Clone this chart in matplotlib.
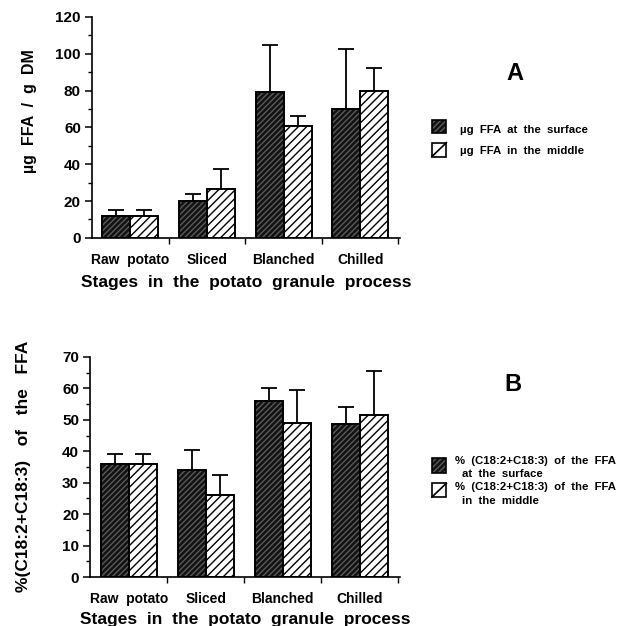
import matplotlib
matplotlib.use("Agg")
import matplotlib.pyplot as plt
import numpy as np
from matplotlib.ticker import MultipleLocator, FixedLocator

plt.rcParams["font.family"] = ["Liberation Sans", "DejaVu Sans"]
plt.rcParams["font.weight"] = "bold"
plt.rcParams["hatch.linewidth"] = 1.0

stages = ["Raw  potato", "Sliced", "Blanched", "Chilled"]

# panel A: ug FFA / g DM
ffa_surface = [12, 20, 79, 70]
ffa_surface_err = [3, 4, 25.5, 32.5]
ffa_middle = [12, 26.5, 61, 80]
ffa_middle_err = [3, 11, 5, 12]

# panel B: % (C18:2 + C18:3) of the FFA
lin_surface = [36, 34, 56, 48.5]
lin_surface_err = [3, 6.5, 4, 5.5]
lin_middle = [36, 26, 49, 51.5]
lin_middle_err = [3, 6.5, 10.5, 14]

DARK = "#121212"
DARK_HATCH = "#5a5a5a"

fig = plt.figure(figsize=(6.26, 6.26), dpi=100)
ax_a = fig.add_axes([0.147, 0.620, 0.492, 0.353])
ax_b = fig.add_axes([0.144, 0.078, 0.495, 0.352])

x = np.arange(len(stages))
w = 0.365


def draw_panel(ax, surf, surf_err, mid, mid_err, ymax, major, minor, ylabel, xpad):
    xs = x - w / 2
    xm = x + w / 2
    # dark bars: near-black fill with grey hatch, then black outline on top
    ax.bar(xs, surf, w, color=DARK, edgecolor=DARK_HATCH, hatch="//////", linewidth=0, zorder=2)
    ax.bar(xs, surf, w, fill=False, edgecolor="black", linewidth=1.4, zorder=3)
    ax.bar(xm, mid, w, color="white", edgecolor="black", hatch="////", linewidth=0, zorder=2)
    ax.bar(xm, mid, w, fill=False, edgecolor="black", linewidth=1.4, zorder=3)
    ax.errorbar(xs, surf, yerr=[np.zeros(len(surf)), surf_err], fmt="none",
                ecolor="black", elinewidth=1.3, capsize=5.5, capthick=1.3, zorder=1)
    ax.errorbar(xm, mid, yerr=[np.zeros(len(mid)), mid_err], fmt="none",
                ecolor="black", elinewidth=1.3, capsize=5.5, capthick=1.3, zorder=1)

    ax.set_xlim(-0.5, 3.52)
    ax.set_ylim(0, ymax)
    for s in ["top", "right"]:
        ax.spines[s].set_visible(False)
    ax.spines["left"].set_linewidth(1.2)
    ax.spines["bottom"].set_linewidth(1.2)

    ax.yaxis.set_major_locator(MultipleLocator(major))
    ax.yaxis.set_minor_locator(MultipleLocator(minor))
    ax.tick_params(axis="y", which="major", length=5, width=1.1, labelsize=11, pad=3)
    ax.tick_params(axis="y", which="minor", length=3, width=1.0)

    ax.xaxis.set_major_locator(FixedLocator([0.5, 1.5, 2.5, 3.5]))
    ax.xaxis.set_major_formatter(plt.NullFormatter())
    ax.set_xticks(x, stages, minor=True)
    ax.tick_params(axis="x", which="major", length=4, width=1.0)
    ax.tick_params(axis="x", which="minor", length=0, labelsize=10, pad=11)
    for lbl in ax.get_xticklabels(minor=True) + ax.get_yticklabels():
        lbl.set_fontweight("bold")

    ax.set_xlabel("Stages  in  the  potato  granule  process", fontsize=12.5,
                  fontweight="bold", labelpad=xpad)
    ax.set_ylabel(ylabel, fontsize=11.5, fontweight="bold")


draw_panel(ax_a, ffa_surface, ffa_surface_err, ffa_middle, ffa_middle_err,
           120, 20, 10, "\u00b5g  FFA  /  g  DM", 6)
ax_a.yaxis.set_label_coords(-0.18, 0.575)
draw_panel(ax_b, lin_surface, lin_surface_err, lin_middle, lin_middle_err,
           70, 10, 5, "%(C18:2+C18:3)   of   the   FFA", 4)
ax_b.yaxis.label.set_fontsize(12.5)
ax_b.yaxis.set_label_coords(-0.19, 0.505)

# panel letters
fig.text(0.822, 0.883, "A", fontsize=17, fontweight="bold", ha="center", va="center")
fig.text(0.820, 0.385, "B", fontsize=17, fontweight="bold", ha="center", va="center")


def legend_patch(xp, yp, hp, dark):
    wp = 0.023
    if dark:
        fig.add_artist(plt.Rectangle((xp, yp), wp, hp, transform=fig.transFigure, facecolor=DARK,
                                     edgecolor=DARK_HATCH, hatch="//////", linewidth=0))
    else:
        fig.add_artist(plt.Line2D([xp, xp + wp], [yp, yp + hp], transform=fig.transFigure,
                                  color="black", linewidth=1.2))
    fig.add_artist(plt.Rectangle((xp, yp), wp, hp, transform=fig.transFigure, fill=False,
                                 edgecolor="black", linewidth=1.2))


legend_patch(0.690, 0.788, 0.021, True)
legend_patch(0.690, 0.750, 0.022, False)
fig.text(0.735, 0.793, "\u00b5g  FFA  at  the  surface", fontsize=8.2, fontweight="bold", va="center")
fig.text(0.735, 0.759, "\u00b5g  FFA  in  the  middle", fontsize=8.2, fontweight="bold", va="center")

legend_patch(0.690, 0.2444, 0.024, True)
legend_patch(0.690, 0.206, 0.022, False)
fig.text(0.727, 0.2636, "%  (C18:2+C18:3)  of  the  FFA", fontsize=8.2, fontweight="bold", va="center")
fig.text(0.738, 0.2428, "at  the  surface", fontsize=8.2, fontweight="bold", va="center")
fig.text(0.727, 0.222, "%  (C18:2+C18:3)  of  the  FFA", fontsize=8.2, fontweight="bold", va="center")
fig.text(0.738, 0.1997, "in  the  middle", fontsize=8.2, fontweight="bold", va="center")

fig.savefig("out.png", dpi=100, facecolor="white")
